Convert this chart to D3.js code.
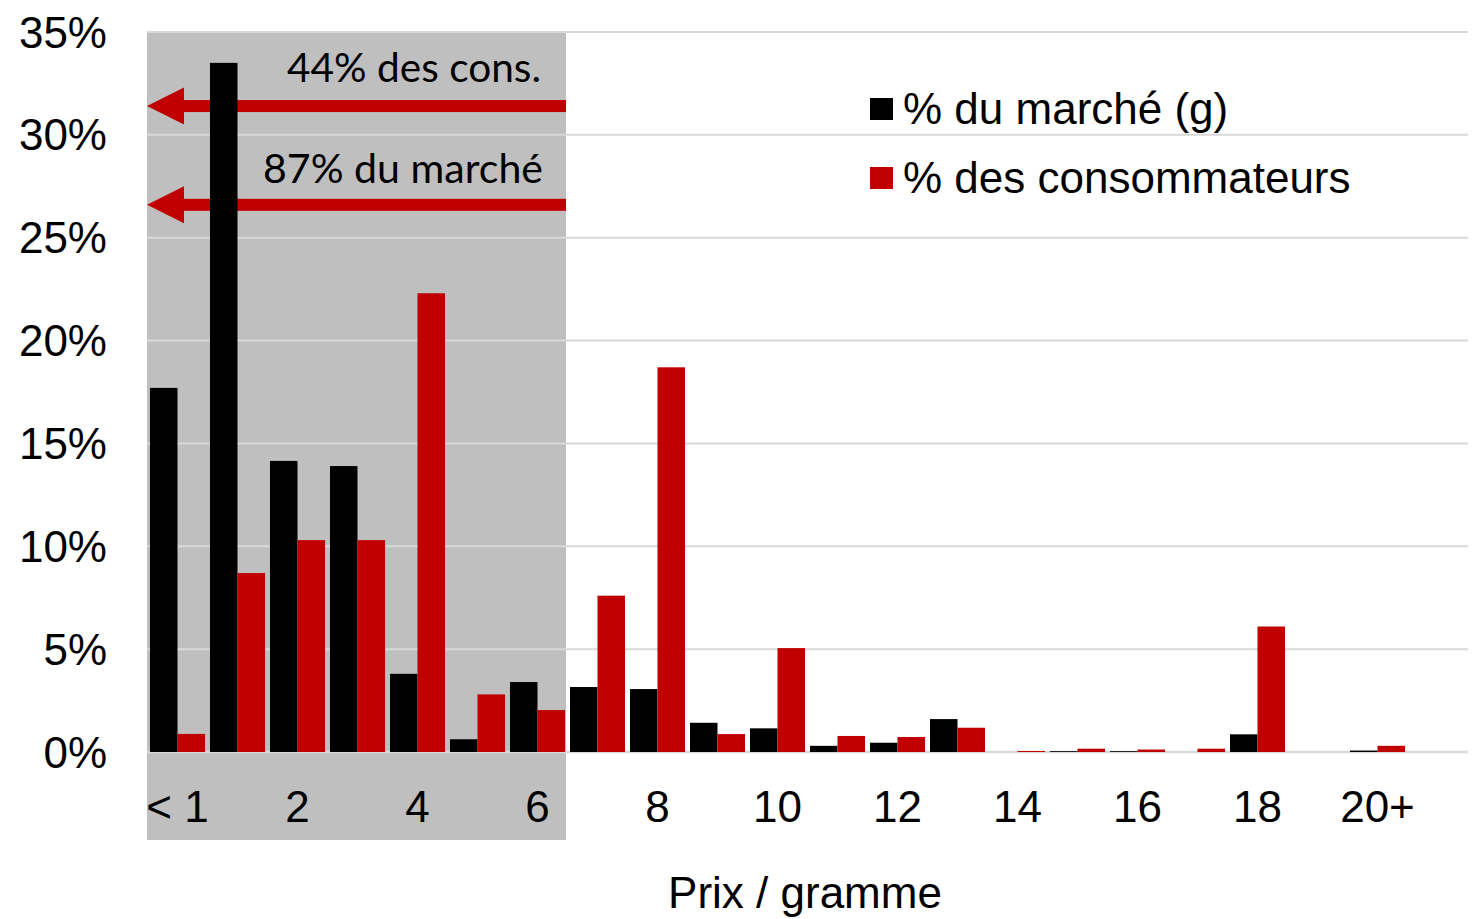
<!DOCTYPE html>
<html>
<head>
<meta charset="utf-8">
<script src="https://cdn.jsdelivr.net/npm/d3@7"></script>
<style>
  html, body { margin: 0; padding: 0; background: #fff; }
  svg { display: block; }
</style>
</head>
<body>
<svg id="chart" width="1479" height="919"></svg>
<script>
const categories = ["< 1","1","2","3","4","5","6","7","8","9","10","11","12","13","14","15","16","17","18","19","20+",""];
const tickLabels = ["< 1","2","4","6","8","10","12","14","16","18","20+"];
const seriesNames = ["% du marché (g)", "% des consommateurs"];
const marche = [17.7,33.5,14.15,13.9,3.8,0.62,3.4,3.16,3.06,1.42,1.15,0.3,0.45,1.6,0,0.04,0.04,0,0.86,0,0.07,null];
const consommateurs = [0.88,8.7,10.3,10.3,22.3,2.8,2.04,7.6,18.7,0.87,5.05,0.78,0.73,1.18,0.05,0.16,0.12,0.16,6.1,0,0.3,null];
const yTicks = [0,5,10,15,20,25,30,35];
const annotations = [
  {text: "44% des cons.", value: 31.4},
  {text: "87% du marché", value: 26.6}
];
const shadedCats = ["< 1","6"];
const xTitle = "Prix / gramme";

(function(){
const colors = ["#000000", "#c00000"];
const svg = d3.select("#chart");
const pLeft = 147, pRight = 1467, pTop = 32, pBottom = 752;

const x0 = d3.scaleBand().domain(categories).range([pLeft, pRight]).padding(0);
const x1 = d3.scaleBand().domain(seriesNames).range([0.5, x0.bandwidth() + 0.5]).paddingInner(0).paddingOuter(0.09);
const y = d3.scaleLinear().domain([0, 35]).range([pBottom, pTop]);

// shaded region
const shadeX0 = x0(shadedCats[0]);
const shadeX1 = x0(shadedCats[1]) + x1(seriesNames[1]) + x1.bandwidth() + 1;
svg.append("rect")
  .attr("x", shadeX0).attr("y", y(35) + 1)
  .attr("width", shadeX1 - shadeX0).attr("height", 840 - y(35) - 1)
  .attr("fill", "#bfbfbf");

// gridlines
svg.append("g").selectAll("line").data(yTicks).join("line")
  .attr("x1", pLeft).attr("x2", pRight + 1)
  .attr("y1", d => y(d)).attr("y2", d => y(d))
  .attr("stroke", "#d9d9d9")
  .attr("stroke-width", d => d === 0 ? 2.5 : 2);

// y labels
svg.append("g").selectAll("text").data(yTicks).join("text")
  .attr("x", 107).attr("y", d => y(d) + 15.5)
  .attr("text-anchor", "end")
  .attr("font-family", "Liberation Sans, Arial, sans-serif")
  .attr("font-size", 44)
  .text(d => d + "%");

// arrows
const arrowG = svg.append("g");
annotations.forEach(a => {
  const yy = y(a.value);
  arrowG.append("rect")
    .attr("x", shadeX0 + 30).attr("y", yy - 6)
    .attr("width", shadeX1 - shadeX0 - 30).attr("height", 12)
    .attr("fill", "#c00000");
  arrowG.append("path")
    .attr("d", `M${shadeX0},${yy} L${shadeX0 + 37},${yy - 18.5} L${shadeX0 + 37},${yy + 18.5} Z`)
    .attr("fill", "#c00000");
});

// bars
const series = [marche, consommateurs];
series.forEach((vals, si) => {
  svg.append("g").selectAll("rect")
    .data(categories.map((c, i) => ({c, v: vals[i]})).filter(d => d.v !== null && d.v > 0))
    .join("rect")
    .attr("x", d => x0(d.c) + x1(seriesNames[si]))
    .attr("width", x1.bandwidth())
    .attr("y", d => y(d.v))
    .attr("height", d => y(0) - y(d.v))
    .attr("fill", colors[si]);
});

// x labels
svg.append("g").selectAll("text").data(tickLabels).join("text")
  .attr("x", d => x0(d) + x0.bandwidth() / 2 + 0.5)
  .attr("y", 822)
  .attr("text-anchor", "middle")
  .attr("font-family", "Liberation Sans, Arial, sans-serif")
  .attr("font-size", 44)
  .text(d => d);

// x title
svg.append("text")
  .attr("x", 805).attr("y", 908)
  .attr("text-anchor", "middle")
  .attr("font-family", "Liberation Sans, Arial, sans-serif")
  .attr("font-size", 44)
  .text(xTitle);

// annotation texts
const annPos = [{x: 287, y: 82, w: 254}, {x: 263, y: 183, w: 280}];
annotations.forEach((a, i) => {
  svg.append("text")
    .attr("x", annPos[i].x).attr("y", annPos[i].y)
    .attr("font-family", "Lato, Noto Sans, sans-serif")
    .attr("font-size", 40)
    .attr("textLength", annPos[i].w)
    .attr("lengthAdjust", "spacingAndGlyphs")
    .text(a.text);
});

// legend
const legend = svg.append("g");
seriesNames.forEach((n, i) => {
  const ly = 98 + i * 69;
  legend.append("rect").attr("x", 870).attr("y", ly).attr("width", 23).attr("height", 22).attr("fill", colors[i]);
  legend.append("text")
    .attr("x", 903).attr("y", ly + 26)
    .attr("font-family", "Liberation Sans, Arial, sans-serif")
    .attr("font-size", 44)
    .text(n);
});
})();
</script>
</body>
</html>
